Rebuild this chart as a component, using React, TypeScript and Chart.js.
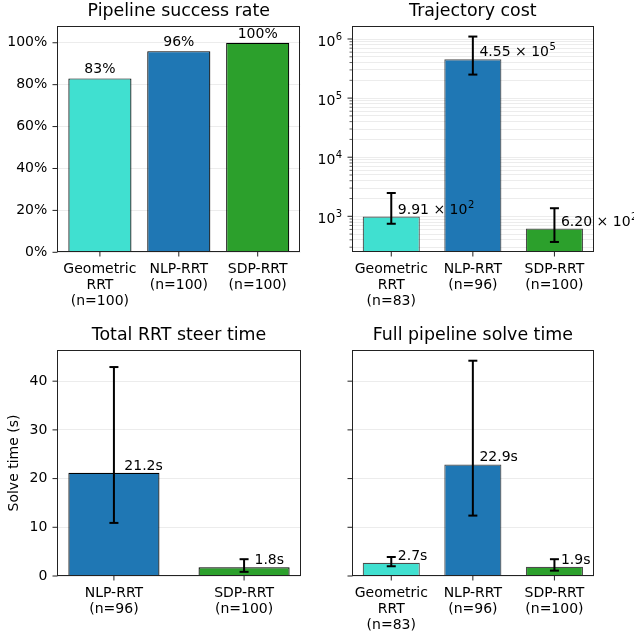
import React, { useEffect, useRef } from 'react';
import { Chart, registerables } from 'chart.js';

Chart.register(...registerables);

const W = 634;
const H = 637;
const FONT = '"DejaVu Sans", Verdana, sans-serif';

// ---------- data ----------
const successCategories = [['Geometric', 'RRT', '(n=100)'], ['NLP-RRT', '(n=100)'], ['SDP-RRT', '(n=100)']];
const successRate = [83, 96, 100];
const successTicks = [0, 20, 40, 60, 80, 100];

const costCategories = [['Geometric', 'RRT', '(n=83)'], ['NLP-RRT', '(n=96)'], ['SDP-RRT', '(n=100)']];
const costMean = [991, 455000, 620];
const costLow = [748, 250000, 368];
const costHigh = [2480, 1100000, 1370];
const costDecades = [100, 1000, 10000, 100000, 1000000];
const costMinorMultipliers = [1, 2, 3, 4, 5, 6, 7, 8, 9];

const steerCategories = [['NLP-RRT', '(n=96)'], ['SDP-RRT', '(n=100)']];
const steerTime = [21.2, 1.8];
const steerLow = [10.9, 0.85];
const steerHigh = [42.9, 3.45];

const pipelineCategories = [['Geometric', 'RRT', '(n=83)'], ['NLP-RRT', '(n=96)'], ['SDP-RRT', '(n=100)']];
const pipelineTime = [2.7, 22.9, 1.9];
const pipelineLow = [2.0, 12.4, 1.1];
const pipelineHigh = [3.9, 44.2, 3.45];
const timeTicks = [0, 10, 20, 30, 40];

const colors3 = ['#40E0D0', '#1f77b4', '#2ca02c'];
const colors2 = ['#1f77b4', '#2ca02c'];

// ---------- helpers ----------
type Label = { base: string; exp?: string };
const sci = (v: number): Label => {
  const [m, e] = v.toExponential(2).split('e');
  return { base: `${m} × 10`, exp: String(parseInt(e, 10)) };
};
const costTickValues = costDecades.flatMap((d) => costMinorMultipliers.map((k) => k * d));

type Area = { l: number; r: number; t: number; b: number };
type Panel = {
  title: string;
  categories: string[][];
  values: number[];
  low?: number[];
  high?: number[];
  colors: string[];
  edge: string;
  barFrac: number;
  xMin: number;
  xMax: number;
  yType: 'linear' | 'logarithmic';
  yMin: number;
  yMax: number;
  yTicks: number[];
  yFmt: (v: number) => string;
  yCustom?: (v: number) => Label | null;
  isMajor: (v: number) => boolean;
  labelMode: 'above' | 'side';
  labelFmt: (v: number) => Label;
  yTitle?: string;
  area: Area;
};

const Y_W = 57;
const X_H = 60;
const TITLE_SIZE = 17.4;
const TITLE_H = TITLE_SIZE * 1.2 + 6;
const GRID = 'rgba(176,176,176,0.3)';
const SUP_SIZE = 10;
const SUP_RAISE = 6;

const panels: Panel[] = [
  {
    title: 'Pipeline success rate',
    categories: successCategories,
    values: successRate,
    colors: colors3,
    edge: '#000',
    barFrac: 0.8,
    xMin: -0.54,
    xMax: 2.54,
    yType: 'linear',
    yMin: 0,
    yMax: 108,
    yTicks: successTicks,
    yFmt: (v) => `${v}%`,
    isMajor: () => true,
    labelMode: 'above',
    labelFmt: (v) => ({ base: `${v}%` }),
    area: { l: 57.3, r: 300.3, t: 26, b: 252.3 },
  },
  {
    title: 'Trajectory cost',
    categories: costCategories,
    values: costMean,
    low: costLow,
    high: costHigh,
    colors: colors3,
    edge: 'rgba(0,0,0,0.7)',
    barFrac: 0.7,
    xMin: -0.485,
    xMax: 2.485,
    yType: 'logarithmic',
    yMin: 246,
    yMax: 1.66e6,
    yTicks: costTickValues,
    yFmt: () => '',
    yCustom: (v) => (costDecades.includes(v) ? { base: '10', exp: String(Math.round(Math.log10(v))) } : null),
    isMajor: (v) => costDecades.includes(v),
    labelMode: 'side',
    labelFmt: sci,
    area: { l: 351.7, r: 594, t: 26, b: 252.3 },
  },
  {
    title: 'Total RRT steer time',
    categories: steerCategories,
    values: steerTime,
    low: steerLow,
    high: steerHigh,
    colors: colors2,
    edge: '#000',
    barFrac: 0.7,
    xMin: -0.435,
    xMax: 1.435,
    yType: 'linear',
    yMin: 0,
    yMax: 46.4,
    yTicks: timeTicks,
    yFmt: (v) => String(v),
    isMajor: () => true,
    labelMode: 'side',
    labelFmt: (v) => ({ base: `${v.toFixed(1)}s` }),
    yTitle: 'Solve time (s)',
    area: { l: 57.3, r: 300.7, t: 350, b: 576 },
  },
  {
    title: 'Full pipeline solve time',
    categories: pipelineCategories,
    values: pipelineTime,
    low: pipelineLow,
    high: pipelineHigh,
    colors: colors3,
    edge: 'rgba(0,0,0,0.7)',
    barFrac: 0.7,
    xMin: -0.485,
    xMax: 2.485,
    yType: 'linear',
    yMin: 0,
    yMax: 46.4,
    yTicks: timeTicks,
    yFmt: () => '',
    isMajor: () => true,
    labelMode: 'side',
    labelFmt: (v) => ({ base: `${v.toFixed(1)}s` }),
    area: { l: 351.7, r: 594, t: 350, b: 576 },
  },
];

function drawLabel(ctx: CanvasRenderingContext2D, lab: Label, x: number, y: number, align: 'left' | 'center' | 'right') {
  ctx.font = `14px ${FONT}`;
  const bw = ctx.measureText(lab.base).width;
  ctx.font = `${SUP_SIZE}px ${FONT}`;
  const ew = lab.exp ? ctx.measureText(lab.exp).width : 0;
  const total = bw + ew;
  const x0 = align === 'left' ? x : align === 'center' ? x - total / 2 : x - total;
  ctx.textAlign = 'left';
  ctx.textBaseline = 'alphabetic';
  ctx.font = `14px ${FONT}`;
  ctx.fillText(lab.base, x0, y);
  if (lab.exp) {
    ctx.font = `${SUP_SIZE}px ${FONT}`;
    ctx.fillText(lab.exp, x0 + bw + 0.5, y - SUP_RAISE);
  }
}

function extrasPlugin(p: Panel) {
  return {
    id: 'extras',
    afterDraw(chart: any) {
      const { ctx, chartArea: a } = chart;
      const xs = chart.scales.x;
      const ys = chart.scales.y;
      const line = (x1: number, y1: number, x2: number, y2: number) => {
        ctx.beginPath();
        ctx.moveTo(x1, y1);
        ctx.lineTo(x2, y2);
        ctx.stroke();
      };
      ctx.save();
      // error bars
      if (p.low && p.high) {
        ctx.strokeStyle = '#000';
        ctx.lineWidth = 2;
        p.values.forEach((_, i) => {
          const x = xs.getPixelForValue(i);
          const y1 = ys.getPixelForValue(p.low![i]);
          const y2 = ys.getPixelForValue(p.high![i]);
          line(x, y1, x, y2);
          line(x - 4.5, y1, x + 4.5, y1);
          line(x - 4.5, y2, x + 4.5, y2);
        });
      }
      // value labels
      ctx.fillStyle = '#000';
      p.values.forEach((v, i) => {
        const yTop = ys.getPixelForValue(v);
        if (p.labelMode === 'above') {
          drawLabel(ctx, p.labelFmt(v), xs.getPixelForValue(i), yTop - 5, 'center');
        } else {
          drawLabel(ctx, p.labelFmt(v), xs.getPixelForValue(i + 0.08), yTop - 3, 'left');
        }
      });
      // custom y tick labels (powers of ten)
      if (p.yCustom) {
        ys.ticks.forEach((t: any) => {
          const lab = p.yCustom!(t.value);
          if (!lab) return;
          const y = ys.getPixelForValue(t.value);
          drawLabel(ctx, lab, a.left - 10, y + 7, 'right');
        });
      }
      // frame
      ctx.strokeStyle = '#222';
      ctx.lineWidth = 1;
      const L = Math.round(a.left) + 0.5;
      const R = Math.round(a.right) - 0.5;
      const T = Math.round(a.top) + 0.5;
      const B = Math.round(a.bottom) - 0.5;
      ctx.strokeRect(L, T, R - L, B - T);
      // tick marks
      ys.ticks.forEach((t: any) => {
        const y = ys.getPixelForValue(t.value);
        const major = p.isMajor(t.value);
        ctx.lineWidth = major ? 1 : 0.7;
        line(L, y, L - (major ? 5 : 3), y);
      });
      ctx.lineWidth = 1;
      xs.ticks.forEach((t: any) => {
        const x = xs.getPixelForValue(t.value);
        line(x, B, x, B + 5);
      });
      ctx.restore();
    },
  };
}

function buildConfig(p: Panel): any {
  return {
    type: 'bar',
    data: {
      datasets: [
        {
          data: p.values.map((v, i) => ({ x: i, y: v })),
          backgroundColor: p.colors,
          borderColor: p.edge,
          borderWidth: 1.2,
          categoryPercentage: 1,
          barPercentage: p.barFrac,
        },
      ],
    },
    options: {
      animation: false,
      responsive: false,
      maintainAspectRatio: false,
      devicePixelRatio: 1,
      layout: {
        padding: {
          left: p.area.l - Y_W,
          right: W - p.area.r,
          top: p.area.t - TITLE_H,
          bottom: H - p.area.b - X_H,
        },
      },
      plugins: {
        legend: { display: false },
        tooltip: { enabled: false },
        title: {
          display: true,
          text: p.title,
          fullSize: false,
          color: '#000',
          font: { family: FONT, size: TITLE_SIZE, weight: 'normal', lineHeight: 1.2 },
          padding: { top: 2, bottom: 4 },
        },
      },
      scales: {
        x: {
          type: 'linear',
          min: p.xMin,
          max: p.xMax,
          bounds: 'data',
          offset: false,
          grid: { display: false, drawTicks: false, offset: false },
          border: { display: false },
          afterBuildTicks: (s: any) => {
            s.ticks = p.categories.map((_, i) => ({ value: i }));
          },
          afterFit: (s: any) => {
            s.height = X_H;
          },
          ticks: {
            autoSkip: false,
            maxRotation: 0,
            minRotation: 0,
            padding: 9,
            color: '#000',
            font: { family: FONT, size: 14, lineHeight: 1.15 },
            callback: (v: number) => p.categories[v] ?? '',
          },
        },
        y: {
          type: p.yType,
          min: p.yMin,
          max: p.yMax,
          bounds: 'data',
          z: 1,
          grid: { color: GRID, lineWidth: 0.8, drawTicks: false },
          border: { display: false },
          afterBuildTicks: (s: any) => {
            s.ticks = p.yTicks.filter((v) => v >= p.yMin && v <= p.yMax).map((v) => ({ value: v, major: p.isMajor(v) }));
          },
          afterFit: (s: any) => {
            s.width = Y_W;
          },
          ticks: {
            autoSkip: false,
            padding: 10,
            color: '#000',
            font: { family: FONT, size: 14 },
            callback: (v: number) => p.yFmt(v),
          },
          title: p.yTitle
            ? {
                display: true,
                text: p.yTitle,
                color: '#000',
                font: { family: FONT, size: 14, lineHeight: 1.2 },
                padding: { top: 6, bottom: 0 },
              }
            : { display: false },
        },
      },
    },
    plugins: [extrasPlugin(p)],
  };
}

function PanelChart({ p }: { p: Panel }) {
  const ref = useRef<HTMLCanvasElement>(null);
  useEffect(() => {
    const chart = new Chart(ref.current!, buildConfig(p));
    return () => chart.destroy();
  }, [p]);
  return (
    <canvas
      ref={ref}
      width={W}
      height={H}
      style={{ position: 'absolute', left: 0, top: 0, width: W, height: H }}
    />
  );
}

export default function App() {
  return (
    <div style={{ position: 'absolute', left: 0, top: 0, width: W, height: H, background: '#fff', overflow: 'hidden' }}>
      {panels.map((p) => (
        <PanelChart key={p.title} p={p} />
      ))}
    </div>
  );
}
